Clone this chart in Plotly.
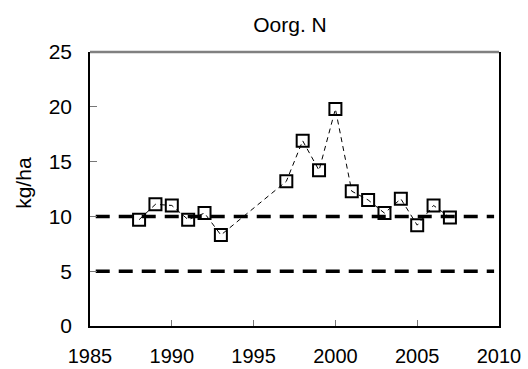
import plotly.graph_objects as go

years = [1988, 1989, 1990, 1991, 1992, 1993, 1997, 1998, 1999, 2000,
         2001, 2002, 2003, 2004, 2005, 2006, 2007]
values = [9.7, 11.1, 11.0, 9.7, 10.3, 8.3, 13.2, 16.9, 14.2, 19.8,
          12.3, 11.5, 10.3, 11.6, 9.2, 11.0, 9.9]

ref_x = [1985.35, 2009.7]
ref_upper = [10, 10]
ref_lower = [5, 5]

title_text = "Oorg. N"
y_title = "kg/ha"
x_ticks = [1985, 1990, 1995, 2000, 2005, 2010]
y_ticks = [0, 5, 10, 15, 20, 25]

FONT = "Liberation Sans, Arial, sans-serif"
L, R, T, B = 89.5, 28.5, 52, 43.3
PW = 528 - L - R

fig = go.Figure()
fig.add_trace(go.Scatter(
    x=years, y=values, mode="lines+markers",
    line=dict(color="black", width=1, dash="5px,4px"),
    marker=dict(symbol="square-open", size=12, color="black",
                line=dict(color="black", width=2)),
    showlegend=False, cliponaxis=False,
))
for yy in (ref_upper, ref_lower):
    fig.add_trace(go.Scatter(
        x=ref_x, y=yy, mode="lines",
        line=dict(color="black", width=3.5, dash="14px,9px"),
        showlegend=False, hoverinfo="skip",
    ))

fig.update_layout(
    width=528, height=369,
    margin=dict(l=L, r=R, t=T, b=B, autoexpand=False),
    paper_bgcolor="white", plot_bgcolor="white",
    font=dict(family=FONT, size=20, color="black"),
    title=dict(text=title_text, x=290 / 528, xanchor="center",
               y=1 - 25 / 369, yanchor="middle",
               font=dict(family=FONT, size=21, color="black")),
    xaxis=dict(range=[1985, 2010], tickvals=x_ticks, ticks="inside",
               ticklen=6, tickcolor="#777", tickwidth=1,
               showgrid=False, zeroline=False, automargin=False,
               showline=True, linecolor="black", linewidth=1.5,
               mirror=False, ticklabelstandoff=11,
               tickfont=dict(family=FONT, size=20)),
    yaxis=dict(range=[0, 25], tickvals=y_ticks, ticks="inside",
               ticklen=7, tickcolor="#777", tickwidth=1,
               showgrid=False, zeroline=False, automargin=False,
               showline=True, linecolor="black", linewidth=1.5,
               mirror=True, ticklabelstandoff=12,
               tickfont=dict(family=FONT, size=21)),
    shapes=[dict(type="line", xref="paper", yref="paper", x0=0, x1=1,
                 y0=1, y1=1, line=dict(color="#808080", width=2.5))],
    annotations=[dict(text=y_title, textangle=-90, showarrow=False,
                      xref="paper", yref="paper",
                      x=(22 - L) / PW, y=(369 - B - 183) / (369 - T - B),
                      xanchor="center", yanchor="middle",
                      font=dict(family=FONT, size=21, color="black"))],
)

fig.write_html("out.html")
